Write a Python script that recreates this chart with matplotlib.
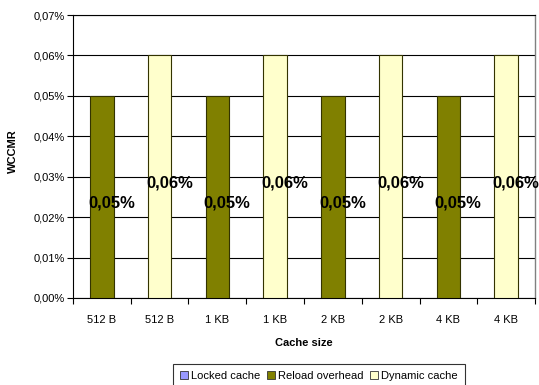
import numpy as np
import matplotlib
matplotlib.use("Agg")
import matplotlib.pyplot as plt
from matplotlib.patches import Patch
from matplotlib.ticker import FuncFormatter

plt.rcParams['font.family'] = ['Liberation Sans', 'DejaVu Sans']

# dados (em %)
categorias = ['512 B', '512 B', '1 KB', '1 KB', '2 KB', '2 KB', '4 KB', '4 KB']
locked = [0, 0, 0, 0, 0, 0, 0, 0]
reload_overhead = [0.05, 0, 0.05, 0, 0.05, 0, 0.05, 0]
dynamic = [0, 0.06, 0, 0.06, 0, 0.06, 0, 0.06]
series_nomes = ['Locked cache', 'Reload overhead', 'Dynamic cache']
cores = ['#9999FF', '#808000', '#FFFFCC']

fig = plt.figure(figsize=(5.39, 3.85), dpi=100)
ax = fig.add_axes([0.1354, 0.226, 0.8572, 0.735])

x = np.arange(len(categorias))
largura = 0.41

# cada categoria tem uma barra só; a série define a cor
for serie, cor in zip([locked, reload_overhead, dynamic], cores):
    vals = np.array(serie, dtype=float)
    mask = vals > 0
    ax.bar(x[mask], vals[mask], largura, color=cor, edgecolor='#333300',
           linewidth=0.8, zorder=3)
    for xi, v in zip(x[mask], vals[mask]):
        ax.text(xi + 0.17, v / 2 - 0.0015, f'{v:.2f}%'.replace('.', ','),
                ha='center', va='center', fontsize=12, fontweight='bold',
                zorder=4)

ax.set_xlim(-0.5, len(categorias) - 0.5)
ax.set_ylim(0, 0.07)
ax.set_yticks(np.arange(0, 0.0701, 0.01))
ax.yaxis.set_major_formatter(FuncFormatter(lambda v, p: f'{v:.2f}%'.replace('.', ',')))
ax.grid(axis='y', color='black', linewidth=0.8, zorder=1)

# ticks do eixo x nas divisas das categorias, rótulos no centro
ax.set_xticks(np.arange(-0.5, len(categorias), 1.0))
ax.set_xticklabels([])
ax.set_xticks(x, minor=True)
ax.set_xticklabels(categorias, minor=True)
ax.tick_params(axis='x', which='minor', length=0, labelsize=8, pad=12)
ax.tick_params(axis='x', which='major', direction='out', length=4, width=0.8)
ax.tick_params(axis='y', direction='out', length=4, width=0.8, labelsize=8, pad=2)

for lado in ['left', 'bottom', 'top']:
    ax.spines[lado].set_color('black')
    ax.spines[lado].set_linewidth(0.8)
ax.spines['right'].set_color('#808080')
ax.spines['right'].set_linewidth(1.0)

ax.set_ylabel('WCCMR', fontsize=8, fontweight='bold')
ax.yaxis.set_label_coords(-0.119, 0.52)
ax.set_xlabel('Cache size', fontsize=8, fontweight='bold', labelpad=9.5)

handles = [Patch(facecolor=c, edgecolor='#333333', linewidth=0.6) for c in cores]
leg = fig.legend(handles, series_nomes, loc='upper center', bbox_to_anchor=(0.592, 0.0545),
                 ncol=3, fontsize=8, frameon=True, fancybox=False,
                 handlelength=0.7, handleheight=0.7, handletextpad=0.3,
                 columnspacing=0.6, borderpad=0.6, borderaxespad=0)
leg.get_frame().set_edgecolor('black')
leg.get_frame().set_linewidth(0.8)

fig.savefig('out.png', dpi=100)
